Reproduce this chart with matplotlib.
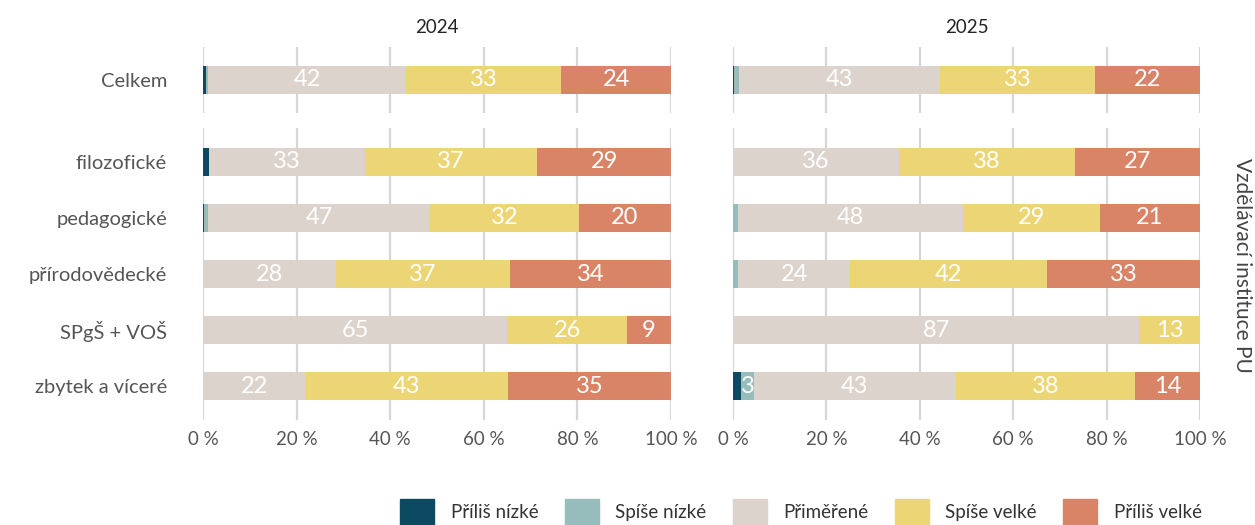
import numpy as np
import matplotlib
matplotlib.use("Agg")
import matplotlib.pyplot as plt
from matplotlib.patches import Patch

plt.rcParams["font.family"] = ["Lato", "DejaVu Sans"]

# ── data (shares in %) ────────────────────────────────────────────────────────
years = ["2024", "2025"]
categories = ["Příliš nízké", "Spíše nízké", "Přiměřené", "Spíše velké", "Příliš velké"]
colors = ["#0c4a62", "#97bcbc", "#dcd3cc", "#ecd574", "#d98466"]

total_label = ["Celkem"]
groups = ["filozofické", "pedagogické", "přírodovědecké", "SPgŠ + VOŠ", "zbytek a víceré"]

# rows: [Příliš nízké, Spíše nízké, Přiměřené, Spíše velké, Příliš velké]
total_2024 = [[0.7, 0.3, 42.4, 33.1, 23.5]]
total_2025 = [[0.2, 1.0, 43.1, 33.2, 22.5]]

groups_2024 = [
    [1.3, 0.0, 33.3, 36.8, 28.6],
    [0.3, 0.8, 47.4, 31.8, 19.7],
    [0.0, 0.0, 28.4, 37.2, 34.4],
    [0.0, 0.0, 65.0, 25.6, 9.4],
    [0.0, 0.0, 21.8, 43.4, 34.8],
]
groups_2025 = [
    [0.0, 0.0, 35.5, 37.7, 26.8],
    [0.0, 1.1, 48.2, 29.3, 21.4],
    [0.0, 1.1, 24.0, 42.2, 32.7],
    [0.0, 0.0, 87.0, 13.0, 0.0],
    [1.7, 2.8, 43.2, 38.4, 13.9],
]

W, H = 1255, 525
fig = plt.figure(figsize=(W / 100, H / 100), dpi=100)


def px_axes(x0, y0, x1, y1):
    return fig.add_axes([x0 / W, 1 - y1 / H, (x1 - x0) / W, (y1 - y0) / H])


def draw(ax, labels, data, show_y, show_x):
    data = np.array(data)
    y = np.arange(len(labels))
    left = np.zeros(len(labels))
    for k in range(len(categories)):
        vals = data[:, k]
        ax.barh(y, vals, left=left, height=0.5, color=colors[k], zorder=3)
        for yi, (l, v) in enumerate(zip(left, vals)):
            if v >= 2.5:
                ax.text(l + v / 2, yi, f"{v:.0f}", ha="center", va="center",
                        color="white", fontsize=17, zorder=4)
        left += vals
    ax.set_xlim(0, 100)
    ax.set_ylim(len(labels) - 1 + 0.6, -0.6)
    ax.set_xticks(range(0, 101, 20))
    ax.grid(axis="x", color="#d6d6d6", lw=1.6, zorder=0)
    for s in ax.spines.values():
        s.set_visible(False)
    ax.tick_params(length=0, colors="#555555")
    ax.tick_params(axis="x", labelsize=13.5, pad=8)
    ax.tick_params(axis="y", labelsize=14.5, pad=26)
    ax.set_yticks(y)
    ax.set_yticklabels(labels if show_y else [])
    if show_x:
        ax.set_xticklabels([f"{t} %" for t in range(0, 101, 20)])
    else:
        ax.set_xticklabels([])


cols = [(203, 671), (733, 1200)]
tot = [total_2024, total_2025]
grp = [groups_2024, groups_2025]
for i, (x0, x1) in enumerate(cols):
    ax_t = px_axes(x0, 47, x1, 113)
    draw(ax_t, total_label, tot[i], i == 0, False)
    ax_t.set_title(years[i], fontsize=13.5, color="#222222", pad=10)
    ax_b = px_axes(x0, 128, x1, 420)
    draw(ax_b, groups, grp[i], i == 0, True)

fig.text(1242 / W, 1 - 265 / H, "Vzdělávací instituce PU", rotation=270,
         ha="center", va="center", fontsize=15, color="#444444")

handles = [Patch(color=c, label=l) for c, l in zip(colors, categories)]
fig.legend(handles=handles, loc="center", ncol=5,
           bbox_to_anchor=(801 / W, 1 - 512 / H), frameon=False,
           fontsize=13.5, handlelength=1.8, handleheight=1.8,
           handletextpad=0.9, columnspacing=1.4, labelcolor="#333333")

fig.savefig("out.png", dpi=100)
